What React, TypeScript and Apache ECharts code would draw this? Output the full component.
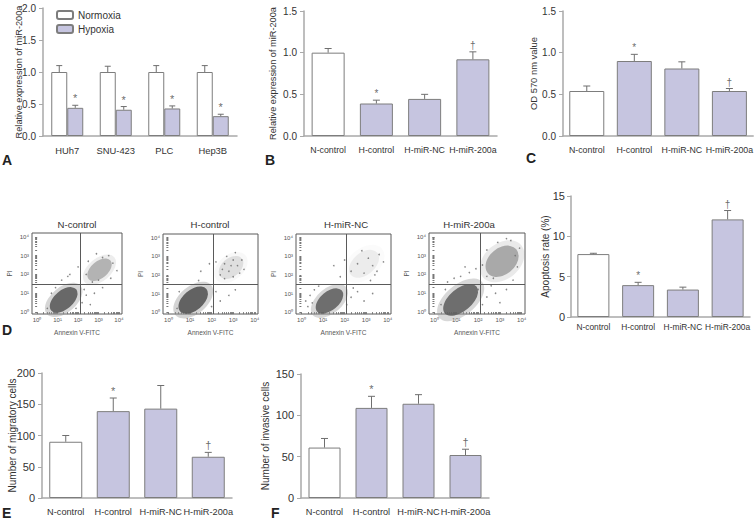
import React, { useEffect, useRef } from "react";
import * as echarts from "echarts";

const FONT = "'Liberation Sans', Arial, sans-serif";
const LAV = "#c6c5e0";
const BORDER = "#7d7d7d";
const AXIS = "#a9a9a9";
const TXT = "#333333";
const MARK = "#444444";

// ---- Panel A
const cellLines = ["HUh7", "SNU-423", "PLC", "Hep3B"];
const normoxia = [1.0, 1.0, 1.0, 1.0];
const normoxiaTop = [1.1, 1.09, 1.1, 1.1];
const hypoxia = [0.44, 0.41, 0.43, 0.31];
const hypoxiaTop = [0.48, 0.46, 0.47, 0.34];
const normoxiaMarks = ["", "", "", ""];
const hypoxiaMarks = ["*", "*", "*", "*"];

// ---- Panels B, C, D(right), E, F
const groups = ["N-control", "H-control", "H-miR-NC", "H-miR-200a"];
const groupMarks = ["", "*", "", "\u2020"];
const miRExpr = [1.0, 0.39, 0.445, 0.92];
const miRExprTop = [1.05, 0.43, 0.5, 1.01];
const od570 = [0.54, 0.9, 0.81, 0.54];
const od570Top = [0.6, 0.98, 0.89, 0.57];
const apoptosis = [7.8, 3.95, 3.4, 12.1];
const apoptosisTop = [7.9, 4.3, 3.7, 13.2];
const migratory = [90, 139, 143, 66];
const migratoryTop = [100, 160, 180, 73];
const invasive = [61, 109, 114, 52];
const invasiveTop = [72, 123, 125, 59];

// ---- Panel D flow cytometry (log10 decades)
const flowTitles = ["N-control", "H-control", "H-miR-NC", "H-miR-200a"];
const decadeTicks = [0, 1, 2, 3, 4];
const quadX = [2.13, 2.06, 2.07, 2.1];
const quadY = [1.46, 1.51, 1.5, 1.5];
// population cores: [centerX, centerY, spreadMajor, spreadMinor, density]
const flowCores = [
  [[1.3, 0.65, 1.6, 1.0, 0.9], [3.05, 2.25, 1.4, 0.9, 0.4]],
  [[1.15, 0.65, 1.6, 1.1, 0.95], [2.9, 2.4, 1.3, 1.0, 0.16]],
  [[1.3, 0.6, 1.5, 1.0, 0.85], [2.9, 2.6, 1.6, 1.2, 0.09]],
  [[1.2, 0.65, 1.9, 1.2, 0.85], [3.1, 2.7, 1.7, 1.4, 0.45]],
];
const flowDots = [
  [[0.5, 0.2], [0.7, 1.0], [0.9, 1.3], [1.9, 0.2], [2.2, 0.5], [2.4, 0.9], [2.6, 0.4], [2.3, 1.2], [2.8, 1.0], [3.2, 1.3], [1.5, 1.9], [1.6, 2.0], [2.4, 2.0], [2.5, 2.7], [3.6, 1.8], [3.7, 2.6], [3.5, 3.0], [2.9, 3.1], [3.2, 2.9], [2.7, 1.6], [3.0, 1.7], [1.2, 1.7], [2.0, 2.4], [3.9, 2.2]],
  [[2.4, 2.0], [2.6, 2.6], [2.8, 2.2], [3.0, 2.8], [3.2, 2.5], [3.3, 2.1], [2.7, 3.0], [3.0, 1.9], [2.5, 2.3], [3.4, 2.8], [3.1, 3.2], [2.2, 2.7], [2.9, 2.5], [3.5, 2.3], [2.6, 1.8], [1.5, 2.2], [1.9, 2.6], [1.4, 1.7], [2.2, 1.1], [2.4, 0.6], [2.8, 0.9], [2.0, 0.3], [3.1, 1.2], [0.4, 0.2], [0.5, 1.1]],
  [[0.3, 0.3], [0.4, 0.9], [0.6, 1.2], [0.5, 0.5], [0.8, 1.4], [0.2, 0.6], [2.1, 0.4], [2.3, 0.8], [2.6, 1.1], [2.9, 0.6], [3.3, 1.0], [2.4, 1.3], [2.3, 2.2], [2.6, 2.6], [2.9, 2.1], [3.1, 2.9], [3.3, 2.5], [3.5, 2.2], [3.6, 3.1], [3.8, 2.7], [2.8, 3.3], [2.0, 2.8], [1.5, 2.5], [1.8, 1.9], [3.2, 1.7], [3.4, 2.0]],
  [[0.3, 0.4], [0.5, 1.2], [0.6, 1.6], [0.9, 1.8], [1.2, 1.9], [1.6, 2.1], [1.9, 2.3], [2.0, 1.2], [2.2, 0.4], [2.4, 0.8], [2.6, 1.4], [2.8, 1.0], [3.0, 0.5], [3.3, 1.2], [3.6, 1.7], [3.8, 2.4], [3.9, 3.4], [3.5, 3.8], [2.9, 3.7], [2.4, 3.3], [2.2, 2.5], [2.4, 1.9], [3.7, 3.0], [3.3, 3.9], [2.7, 1.8], [1.4, 2.4]],
];

const SUP = ["\u2070", "\u00b9", "\u00b2", "\u00b3", "\u2074"];

const panels = [
  { left: 43, top: 8, width: 194, height: 128 }, // A
  { left: 304, top: 11, width: 193, height: 125 }, // B
  { left: 563, top: 11, width: 191, height: 125 }, // C
  { left: 32, top: 233, width: 90, height: 81 }, // D1
  { left: 163, top: 234, width: 95, height: 80 }, // D2
  { left: 296, top: 234, width: 95, height: 80 }, // D3
  { left: 429, top: 233, width: 96, height: 81 }, // D4
  { left: 571, top: 196, width: 179, height: 121 }, // apoptosis
  { left: 42, top: 373, width: 190, height: 125 }, // E
  { left: 301, top: 374, width: 188, height: 124 }, // F
];

const FX_MIN = -0.25, FX_MAX = 4.15, FY_MIN = -0.1, FY_MAX = 4.2;

function buildOption() {
  const logTicks: number[] = [];
  for (let d = 0; d < 4; d++) for (let k = 1; k <= 9; k++) logTicks.push(d + Math.log10(k));
  logTicks.push(4);

  const grids = panels.map((p, i) => ({
    left: p.left, top: p.top, width: p.width, height: p.height,
    show: i >= 3 && i <= 6, borderColor: "#5a5a5a", borderWidth: 1, backgroundColor: "transparent",
  }));

  const catX = (gi: number, cats: string[], fontSize: number, margin: number) => ({
    type: "category", gridIndex: gi, data: cats,
    axisLine: { lineStyle: { color: AXIS, width: 1.5 } },
    axisTick: { alignWithLabel: true, length: 4, lineStyle: { color: AXIS, width: 1 } },
    axisLabel: { interval: 0, fontSize, margin, color: TXT, fontFamily: FONT, hideOverlap: false },
  });
  const valY = (gi: number, max: number, interval: number, fontSize: number, name: string, nameSize: number, nameGap: number, dec: number, margin: number) => ({
    type: "value", gridIndex: gi, min: 0, max, interval,
    axisLine: { show: true, lineStyle: { color: AXIS, width: 1.5 } },
    axisTick: { show: true, length: 4, lineStyle: { color: AXIS } },
    splitLine: { show: false },
    axisLabel: { fontSize, color: TXT, fontFamily: FONT, margin, formatter: (v: number) => v.toFixed(dec) },
    name, nameLocation: "middle", nameGap, nameMoveOverlap: false,
    nameTextStyle: { fontSize: nameSize, color: TXT, fontFamily: FONT },
  });
  const flowX = (gi: number) => ({
    type: "value", gridIndex: gi, min: FX_MIN, max: FX_MAX,
    axisLine: { show: false }, splitLine: { show: false },
    axisTick: { show: true, length: 2, customValues: logTicks, lineStyle: { color: "#777" } },
    axisLabel: { show: true, customValues: decadeTicks, fontSize: 6, margin: 3, color: "#555", fontFamily: FONT, formatter: (v: number) => "10" + SUP[Math.round(v)] },
    name: "Annexin V-FITC", nameLocation: "middle", nameGap: 15, nameMoveOverlap: false,
    nameTextStyle: { fontSize: 6.5, color: "#555", fontFamily: FONT },
  });
  const flowY = (gi: number) => ({
    type: "value", gridIndex: gi, min: FY_MIN, max: FY_MAX,
    axisLine: { show: false }, splitLine: { show: false },
    axisTick: { show: true, length: 2, customValues: logTicks, lineStyle: { color: "#777" } },
    axisLabel: { show: true, customValues: decadeTicks, fontSize: 6, margin: 3, color: "#555", fontFamily: FONT, formatter: (v: number) => "10" + SUP[Math.round(v)] },
    name: "PI", nameLocation: "middle", nameGap: 19, nameMoveOverlap: false,
    nameTextStyle: { fontSize: 6.5, color: "#555", fontFamily: FONT },
  });

  const xAxis = [
    catX(0, cellLines, 9.4, 10),
    catX(1, groups, 8.8, 9),
    catX(2, groups, 8.8, 9),
    flowX(3), flowX(4), flowX(5), flowX(6),
    catX(7, groups, 8.4, 6),
    catX(8, groups, 9.2, 9),
    catX(9, groups, 9.2, 9),
  ];
  const yAxis = [
    valY(0, 2, 0.5, 10, "Relative expression of miR-200a", 9.2, 20, 1, 7),
    valY(1, 1.5, 0.5, 10, "Relative expression of miR-200a", 9.2, 27, 1, 7),
    valY(2, 1.5, 0.5, 10, "OD 570 nm value", 9.4, 25, 1, 7),
    flowY(3), flowY(4), flowY(5), flowY(6),
    valY(7, 15, 5, 11, "Apoptosis rate (%)", 10, 21, 0, 6),
    valY(8, 200, 50, 11, "Number of migratory cells", 10, 25, 0, 7),
    valY(9, 150, 50, 11, "Number of invasive cells", 10, 31, 0, 7),
  ];

  const series: any[] = [];

  const errSeries = (gi: number, vals: number[], tops: number[], offset: number, capHalf: number) => ({
    type: "custom", xAxisIndex: gi, yAxisIndex: gi, z: 5, silent: true,
    data: vals.map((v, i) => [i, v, tops[i]]),
    encode: { x: 0, y: [1, 2] },
    renderItem: (params: any, api: any) => {
      const i = api.value(0);
      const p0 = api.coord([i, api.value(1)]);
      const p1 = api.coord([i, api.value(2)]);
      const x = p0[0] + offset;
      return {
        type: "group",
        children: [
          { type: "line", shape: { x1: x, y1: p0[1], x2: x, y2: p1[1] }, style: { stroke: "#6f6f6f", lineWidth: 1 } },
          { type: "line", shape: { x1: x - capHalf, y1: p1[1], x2: x + capHalf, y2: p1[1] }, style: { stroke: "#6f6f6f", lineWidth: 1 } },
        ],
      };
    },
  });

  const markSeries = (gi: number, tops: number[], marks: string[], offset: number, markSize: number) => ({
    type: "scatter", xAxisIndex: gi, yAxisIndex: gi, z: 6, silent: true,
    symbol: "circle", symbolSize: 1,
    data: tops.map((t, i) => [i, t]),
    itemStyle: { color: "rgba(255,255,255,0)" },
    label: {
      show: true, position: "top", distance: 1, offset: [offset, 0],
      formatter: (p: any) => marks[p.dataIndex],
      color: MARK, fontFamily: FONT,
      fontSize: markSize,
    },
  });

  const groupBars = (gi: number, vals: number[], tops: number[], barWidth: number, markSize: number, capHalf: number) => {
    series.push({
      type: "bar", xAxisIndex: gi, yAxisIndex: gi, barWidth,
      data: vals.map((v, i) => ({ value: v, itemStyle: { color: i === 0 ? "#ffffff" : LAV } })),
      itemStyle: { borderColor: BORDER, borderWidth: 1 },
    });
    series.push(errSeries(gi, vals, tops, 0, capHalf));
    series.push(markSeries(gi, tops, groupMarks, 0, markSize));
  };

  // Panel A
  series.push({
    name: "Normoxia", type: "bar", xAxisIndex: 0, yAxisIndex: 0, barWidth: 16, barGap: "0%",
    data: normoxia, itemStyle: { color: "#ffffff", borderColor: BORDER, borderWidth: 1 },
  });
  series.push({
    name: "Hypoxia", type: "bar", xAxisIndex: 0, yAxisIndex: 0, barWidth: 16, barGap: "0%",
    data: hypoxia, itemStyle: { color: LAV, borderColor: BORDER, borderWidth: 1 },
  });
  series.push(errSeries(0, normoxia, normoxiaTop, -8, 3));
  series.push(errSeries(0, hypoxia, hypoxiaTop, 8, 3));
  series.push(markSeries(0, normoxiaTop, normoxiaMarks, -8, 11));
  series.push(markSeries(0, hypoxiaTop, hypoxiaMarks, 8, 11));

  groupBars(1, miRExpr, miRExprTop, 33, 10, 3.5);
  groupBars(2, od570, od570Top, 35, 10, 3.5);
  groupBars(7, apoptosis, apoptosisTop, 32, 10, 3.5);
  groupBars(8, migratory, migratoryTop, 33, 11, 3.5);
  groupBars(9, invasive, invasiveTop, 32, 11, 3.5);

  // Panel D flow plots
  flowCores.forEach((cores, k) => {
    const gi = 3 + k;
    const pxX = panels[gi].width / (FX_MAX - FX_MIN);
    const pxY = panels[gi].height / (FY_MAX - FY_MIN);
    series.push({
      type: "scatter", xAxisIndex: gi, yAxisIndex: gi, silent: true, symbol: "circle", symbolRotate: 40,
      data: cores.map((c) => ({ value: c, itemStyle: { opacity: c[4] * 0.45 } })),
      symbolSize: (v: number[]) => [v[2] * pxX * 1.35, v[3] * pxY * 1.35],
      itemStyle: { color: "#9a9a9a" },
    });
    series.push({
      type: "scatter", xAxisIndex: gi, yAxisIndex: gi, silent: true, symbol: "circle", symbolRotate: 40,
      data: cores.map((c) => ({ value: c, itemStyle: { opacity: c[4] } })),
      symbolSize: (v: number[]) => [v[2] * pxX, v[3] * pxY],
      itemStyle: { color: "#5c5c5c" },
    });
    series.push({
      type: "scatter", xAxisIndex: gi, yAxisIndex: gi, silent: true, symbol: "circle", symbolSize: 1.6,
      data: flowDots[k], itemStyle: { color: "#6a6a6a" },
      markLine: {
        silent: true, symbol: "none", label: { show: false },
        lineStyle: { color: "#5a5a5a", width: 1, type: "solid" },
        data: [{ xAxis: quadX[k] }, { yAxis: quadY[k] }],
      },
    });
  });

  const flowTitleX = [77, 210, 346, 469];
  const letters = [
    ["A", 2, 153], ["B", 265, 153], ["C", 526, 151], ["D", 2, 323], ["E", 2, 506], ["F", 271, 506],
  ];

  const graphic: any[] = [
    ...letters.map(([t, x, y]) => ({
      type: "text", left: x, top: y,
      style: { text: t, fontSize: 14, fontWeight: "bold", fill: "#222", fontFamily: FONT },
    })),
    ...flowTitles.map((t, k) => ({
      type: "text", x: flowTitleX[k], y: 224,
      style: { text: t, fontSize: 9.6, fill: TXT, fontFamily: FONT, align: "center", verticalAlign: "middle" },
    })),
  ];

  return {
    animation: false,
    backgroundColor: "#ffffff",
    textStyle: { fontFamily: FONT },
    grid: grids,
    xAxis,
    yAxis,
    series,
    legend: {
      data: ["Normoxia", "Hypoxia"], left: 51, top: 5, orient: "vertical",
      itemWidth: 16, itemHeight: 8, itemGap: 4, selectedMode: false,
      textStyle: { fontSize: 10, color: TXT, fontFamily: FONT },
    },
    graphic,
  };
}

export default function App() {
  const ref = useRef<HTMLDivElement>(null);
  useEffect(() => {
    if (!ref.current) return;
    const chart = echarts.init(ref.current, undefined, { renderer: "svg" });
    chart.setOption(buildOption() as any);
    return () => chart.dispose();
  }, []);
  return <div ref={ref} style={{ position: "absolute", left: 0, top: 0, width: 756, height: 521 }} />;
}
